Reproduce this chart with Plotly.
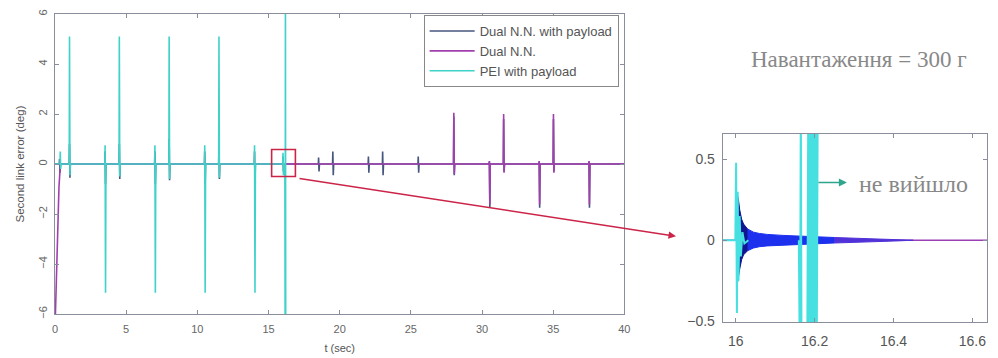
import plotly.graph_objects as go

# ---------------- data ----------------
# Main plot: second link error (deg) vs t (sec)
# "PEI with payload" (cyan): transient events near 0, tall spikes, divergence at ~16.2 s
pei_times = [0.35, 1.0, 3.5, 4.5, 7.0, 8.0, 10.5, 11.5, 14.0, 16.0]
pei_up    = [0.5, 5.1, 0.75, 5.1, 0.75, 5.1, 0.75, 5.1, 0.75, 0.45]
pei_down  = [-0.2, -0.45, -5.15, -0.5, -5.15, -0.6, -5.15, -0.55, -5.15, -0.45]
pei_div_t = [16.15, 16.17, 16.19, 16.21]
pei_div_y = [0.0, -7.0, 7.0, -7.0]

# "Dual N.N. with payload" (dark blue-grey)
dnp_times = [0.3, 1.0, 3.5, 4.5, 7.0, 8.0, 10.5, 11.5, 14.0, 16.0, 18.5, 19.5,
             22.0, 23.0, 25.5, 28.0, 30.5, 31.5, 34.0, 35.0, 37.5]
dnp_up    = [0.2, 0.8, 0.5, 0.8, 0.5, 1.0, 0.5, 0.9, 0.5, 0.3, 0.26, 0.5,
             0.3, 0.5, 0.3, 1.9, 0.1, 1.8, 0.1, 1.8, 0.1]
dnp_down  = [-0.35, -0.55, -0.8, -0.6, -0.8, -0.65, -0.8, -0.6, -0.8, -0.3, -0.3, -0.45,
             -0.35, -0.45, -0.35, -0.45, -1.75, -0.3, -1.75, -0.3, -1.75]

# "Dual N.N." (purple): initial transient from -6, then spikes
dn_start_t = [0.0, 0.08, 0.18, 0.28, 0.38]
dn_start_y = [-6.6, -5.0, -2.8, -0.9, 0.0]
dn_times = [28.0, 30.5, 31.5, 34.0, 35.0, 37.5]
dn_up    = [2.05, 0.12, 2.0, 0.12, 2.0, 0.12]
dn_down  = [-0.4, -1.62, -0.35, -1.62, -0.35, -1.62]

T_END = 40.0

# Inset (zoom 15.97 .. 16.64 s)
ins_pei_t = [15.967, 15.999, 16.001, 16.003, 16.005, 16.007, 16.010, 16.013, 16.017, 16.022, 16.032, None,
             16.160, 16.163, 16.165, 16.167, 16.181, 16.184, 16.187, 16.190, 16.193, 16.196, 16.199,
             16.202, 16.205, 16.208]
ins_pei_y = [0, 0, 0.48, -0.45, 0.3, -0.25, 0.15, -0.1, 0.05, -0.02, 0, None,
             0, -0.9, 0.9, -0.9, -0.9, 0.9, -0.9, 0.9, -0.9, 0.9, -0.9,
             0.9, -0.9, 0.9]

# "Dual N.N. with payload" oscillation envelope in the inset (upper / lower)
ins_env_t  = [16.002, 16.004, 16.007, 16.010, 16.015, 16.020, 16.030, 16.045, 16.060, 16.080,
              16.120, 16.160, 16.200, 16.250, 16.300, 16.350, 16.400, 16.450]
ins_env_up = [0.0, 0.285, 0.25, 0.19, 0.13, 0.10, 0.07, 0.05, 0.042, 0.036,
              0.03, 0.025, 0.021, 0.017, 0.013, 0.009, 0.005, 0.0]
ins_env_lo = [0.0, -0.27, -0.24, -0.18, -0.12, -0.09, -0.065, -0.048, -0.04, -0.035,
              -0.03, -0.025, -0.021, -0.017, -0.013, -0.009, -0.005, 0.0]
ins_split_t = [16.03, 16.24]

ins_dn_t = [15.967, 16.637]
ins_dn_y = [0.0, 0.0]

x_ticks_main = [0, 5, 10, 15, 20, 25, 30, 35, 40]
y_ticks_main = [-6, -4, -2, 0, 2, 4, 6]
x_ticks_ins = [16, 16.2, 16.4, 16.6]
y_ticks_ins = [-0.5, 0, 0.5]

legend_names = ["Dual N.N. with payload", "Dual N.N.", "PEI with payload"]
title_text = "Навантаження = 300 г"
note_text = "не вийшло"

# ---------------- helpers ----------------
def spike_path(times, ups, downs, t0, t1, xs=None, ys=None):
    xs = [t0] if xs is None else xs
    ys = [0.0] if ys is None else ys
    for t, u, d in zip(times, ups, downs):
        xs += [t, t + 0.02, t + 0.05, t + 0.08]
        ys += [0.0, u, d, 0.0]
    if t1 is not None:
        xs.append(t1)
        ys.append(0.0)
    return xs, ys

dnp_x, dnp_y = spike_path(dnp_times, dnp_up, dnp_down, 0.0, T_END)
dn_x, dn_y = spike_path(dn_times, dn_up, dn_down, None, T_END,
                        xs=list(dn_start_t), ys=list(dn_start_y))
pei_x, pei_y = spike_path(pei_times, pei_up, pei_down, 0.0, None)
pei_x += pei_div_t
pei_y += pei_div_y

C_DNP = "#46567e"
C_DN = "#a23fae"
C_PEI = "#3fd2c9"

# layout geometry (pixels of the 998x358 figure)
ML, MR, MT, MB = 55, 5, 14, 35
W, H = 998, 358
PW, PH = W - ML - MR, H - MT - MB
def PX(px):
    return (px - ML) / PW
def PY(py):
    return (H - MB - py) / PH

fig = go.Figure()
fig.add_trace(go.Scatter(x=dnp_x, y=dnp_y, mode="lines", name=legend_names[0],
                         line=dict(color=C_DNP, width=1.6), xaxis="x", yaxis="y"))
fig.add_trace(go.Scatter(x=dn_x, y=dn_y, mode="lines", name=legend_names[1],
                         line=dict(color=C_DN, width=1.6), xaxis="x", yaxis="y"))
fig.add_trace(go.Scatter(x=pei_x, y=pei_y, mode="lines", name=legend_names[2],
                         line=dict(color=C_PEI, width=1.6), xaxis="x", yaxis="y"))

# inset traces
fig.add_trace(go.Scatter(x=ins_dn_t, y=ins_dn_y, mode="lines", showlegend=False,
                         line=dict(color="#9a3fb4", width=1.6), xaxis="x2", yaxis="y2"))
i1 = next(i for i, t in enumerate(ins_env_t) if t >= ins_split_t[0])
i2 = next(i for i, t in enumerate(ins_env_t) if t >= ins_split_t[1])
segs = [(0, i1 + 1, "#0e1690"), (i1, i2 + 1, "#1c30ee"), (i2, len(ins_env_t), "#5032d8")]
for a, b, c in segs:
    tx = ins_env_t[a:b]
    fig.add_trace(go.Scatter(x=tx + tx[::-1], y=ins_env_up[a:b] + ins_env_lo[a:b][::-1],
                             mode="lines", fill="toself", fillcolor=c, showlegend=False,
                             line=dict(color=c, width=1), xaxis="x2", yaxis="y2"))
fig.add_trace(go.Scatter(x=ins_pei_t, y=ins_pei_y, mode="lines", showlegend=False,
                         connectgaps=False,
                         line=dict(color="#46e0e0", width=2), xaxis="x2", yaxis="y2"))

axis_common = dict(showline=True, linecolor="#8a8d9c", linewidth=1, mirror="allticks",
                   ticks="inside", ticklen=4, tickcolor="#8a8d9c", showgrid=False,
                   zeroline=False)

fig.update_layout(
    width=W, height=H,
    margin=dict(l=ML, r=MR, t=MT, b=MB),
    paper_bgcolor="white", plot_bgcolor="white",
    font=dict(family="Liberation Sans, Arial, sans-serif", color="#666"),
    xaxis=dict(domain=[0, PX(628)], range=[0, 40], tickvals=x_ticks_main,
               tickfont=dict(size=11, color="#666"), ticklabelstandoff=5,
               title=dict(text="t (sec)", font=dict(size=11, color="#555"), standoff=10),
               anchor="y", **axis_common),
    yaxis=dict(domain=[PY(315), 1], range=[-6, 6], tickvals=y_ticks_main,
               tickangle=-90, tickfont=dict(size=11, color="#666"), ticklabelstandoff=3,
               title=dict(text="Second link error (deg)", font=dict(size=11.5, color="#555"),
                          standoff=9),
               anchor="x", **axis_common),
    xaxis2=dict(domain=[PX(727), 1], range=[15.967, 16.637], tickvals=x_ticks_ins,
                tickfont=dict(size=14, color="#555"), ticklabelstandoff=6,
                anchor="y2", **axis_common),
    yaxis2=dict(domain=[0, PY(134)], range=[-0.506, 0.66], tickvals=y_ticks_ins,
                tickfont=dict(size=14, color="#555"), ticklabelstandoff=4,
                anchor="x2", **axis_common),
    legend=dict(x=PX(426), y=PY(15), xanchor="left", yanchor="top",
                bgcolor="white", bordercolor="#888", borderwidth=1,
                font=dict(size=13, color="#555"), itemwidth=45,
                tracegroupgap=0),
    shapes=[dict(type="rect", xref="x", yref="y", x0=15.22, x1=16.89, y0=-0.5, y1=0.58,
                 line=dict(color="#cc2448", width=1.6))],
    annotations=[
        dict(x=PX(680), y=PY(237), xref="paper", yref="paper", ax=302 - 680, ay=179 - 237,
             text="", showarrow=True, arrowhead=2, arrowsize=1, arrowwidth=1.5,
             arrowcolor="#cc2448"),
        dict(x=PX(852), y=PY(183), xref="paper", yref="paper", ax=-30, ay=0,
             text="", showarrow=True, arrowhead=2, arrowsize=1, arrowwidth=1.6,
             arrowcolor="#2ea58c"),
        dict(x=PX(862), y=PY(185), xref="paper", yref="paper", xanchor="left", yanchor="middle",
             text=note_text, showarrow=False,
             font=dict(family="Liberation Serif, Times New Roman, serif", size=24, color="#888")),
        dict(x=PX(864), y=PY(60), xref="paper", yref="paper", xanchor="center", yanchor="middle",
             text=title_text, showarrow=False,
             font=dict(family="Liberation Serif, Times New Roman, serif", size=23, color="#888")),
    ],
)

fig.write_html("out.html")
